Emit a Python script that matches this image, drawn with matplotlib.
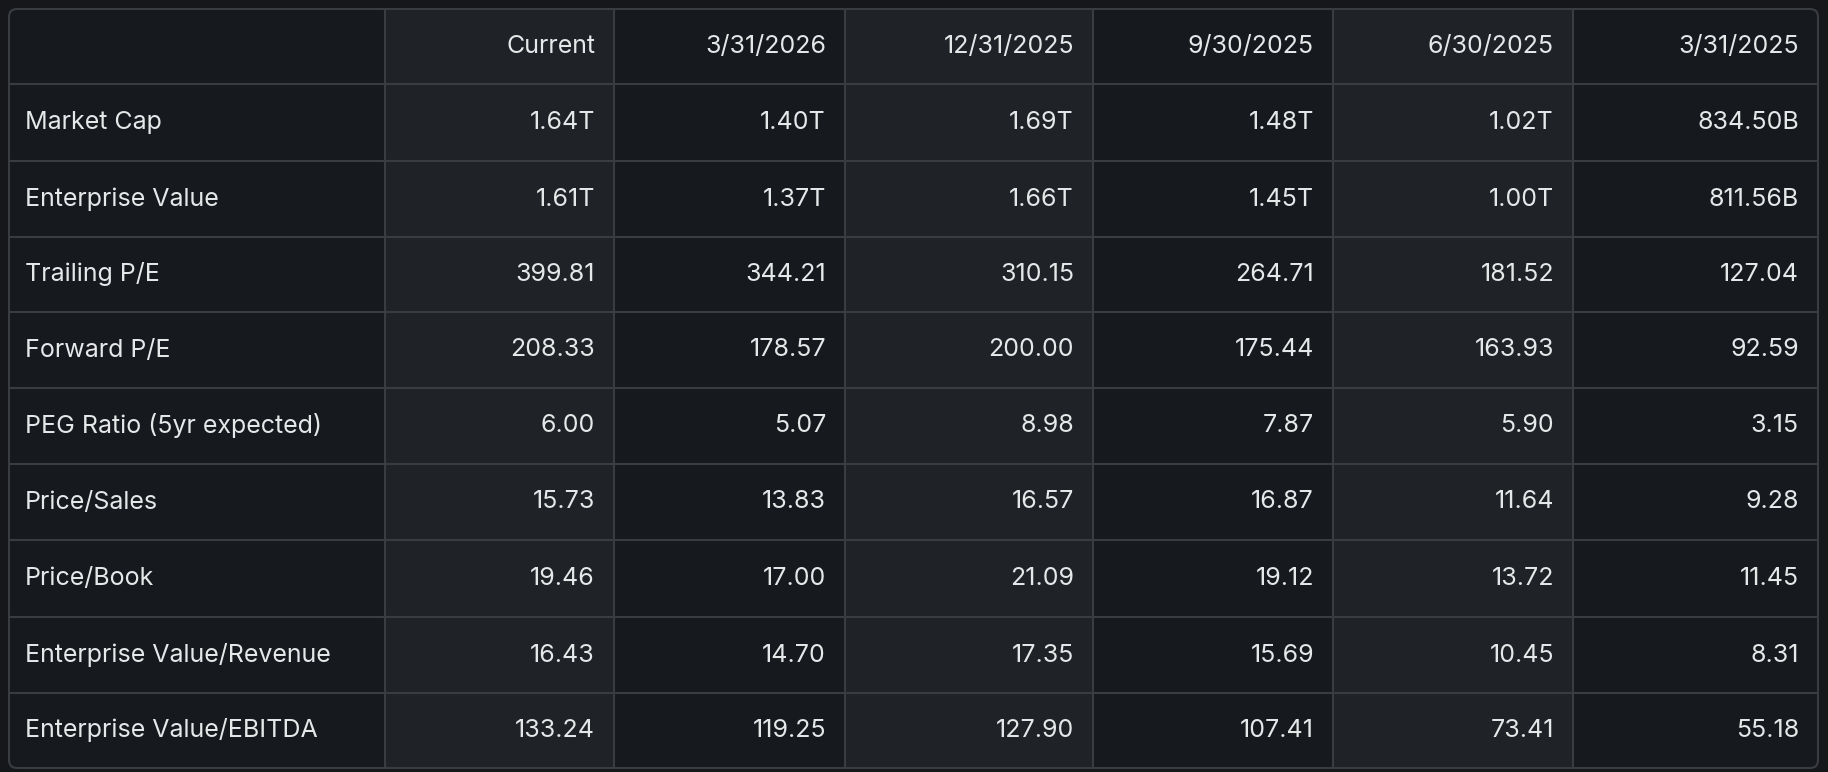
import matplotlib
matplotlib.use("Agg")
import matplotlib.pyplot as plt
from matplotlib.patches import Rectangle, FancyBboxPatch

columns = ["Current", "3/31/2026", "12/31/2025", "9/30/2025", "6/30/2025", "3/31/2025"]
metrics = ["Market Cap", "Enterprise Value", "Trailing P/E", "Forward P/E",
           "PEG Ratio (5yr expected)", "Price/Sales", "Price/Book",
           "Enterprise Value/Revenue", "Enterprise Value/EBITDA"]
market_cap = ["1.64T", "1.40T", "1.69T", "1.48T", "1.02T", "834.50B"]
enterprise_value = ["1.61T", "1.37T", "1.66T", "1.45T", "1.00T", "811.56B"]
trailing_pe = ["399.81", "344.21", "310.15", "264.71", "181.52", "127.04"]
forward_pe = ["208.33", "178.57", "200.00", "175.44", "163.93", "92.59"]
peg_ratio = ["6.00", "5.07", "8.98", "7.87", "5.90", "3.15"]
price_sales = ["15.73", "13.83", "16.57", "16.87", "11.64", "9.28"]
price_book = ["19.46", "17.00", "21.09", "19.12", "13.72", "11.45"]
ev_revenue = ["16.43", "14.70", "17.35", "15.69", "10.45", "8.31"]
ev_ebitda = ["133.24", "119.25", "127.90", "107.41", "73.41", "55.18"]
rows = [market_cap, enterprise_value, trailing_pe, forward_pe, peg_ratio,
        price_sales, price_book, ev_revenue, ev_ebitda]

W, H = 1828, 772
fig = plt.figure(figsize=(W/100, H/100), dpi=100)
fig.patch.set_facecolor("#15171b")
ax = fig.add_axes([0, 0, 1, 1])
ax.set_xlim(0, W); ax.set_ylim(H, 0); ax.axis("off")

xe = [9, 385, 614, 845, 1093, 1333, 1573, 1818]
ye = [9, 84, 161, 237, 312, 388, 464, 540, 617, 693, 768]
dark, light, grid, txt = "#16191d", "#1f2226", "#393c41", "#e6e7e8"

for c in range(len(xe) - 1):
    col = dark if c % 2 == 0 else light
    ax.add_patch(Rectangle((xe[c], ye[0]), xe[c+1]-xe[c], ye[-1]-ye[0], facecolor=col, edgecolor="none", zorder=1))
for x in xe[1:-1]:
    ax.plot([x, x], [ye[0], ye[-1]], color=grid, lw=1.5, zorder=2)
for y in ye[1:-1]:
    ax.plot([xe[0], xe[-1]], [y, y], color=grid, lw=1.5, zorder=2)
ax.add_patch(FancyBboxPatch((xe[0], ye[0]), xe[-1]-xe[0], ye[-1]-ye[0],
             boxstyle="round,pad=0,rounding_size=8", facecolor="none", edgecolor=grid, lw=1.5, zorder=3))

fs = 18
font = "Inter"
for j, name in enumerate(columns):
    ax.text(xe[j+2] - 19, (ye[0]+ye[1])/2, name, ha="right", va="center", color=txt, fontsize=fs, family=font, zorder=4)
for i, (m, vals) in enumerate(zip(metrics, rows)):
    yc = (ye[i+1] + ye[i+2]) / 2
    ax.text(xe[0] + 16, yc, m, ha="left", va="center", color=txt, fontsize=fs, family=font, zorder=4)
    for j, v in enumerate(vals):
        ax.text(xe[j+2] - 19, yc, v, ha="right", va="center", color=txt, fontsize=fs, family=font, zorder=4)

fig.savefig("out.png", dpi=100, facecolor=fig.get_facecolor())
